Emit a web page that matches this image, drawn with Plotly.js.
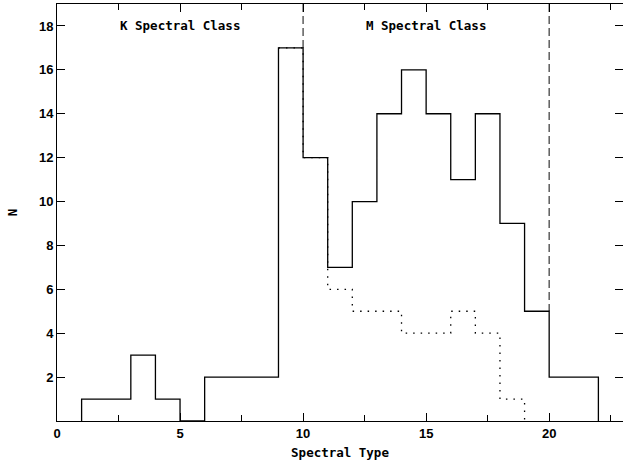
<!DOCTYPE html>
<html>
<head>
<meta charset="utf-8">
<script src="https://cdn.plot.ly/plotly-3.0.1.min.js"></script>
<style>html,body{margin:0;padding:0;background:#fff;}#chart{width:623px;height:463px;}</style>
</head>
<body>
<div id="chart"></div>
<script>
// All spectral types: bin lower edges and counts (bin width 1)
const allBinStarts = [1,2,3,4,5,6,7,8,9,10,11,12,13,14,15,16,17,18,19,20,21];
const allCounts    = [1,1,3,1,0,2,2,2,17,12,7,10,14,16,14,11,14,9,5,2,2];
// Subsample (dotted)
const subBinStarts = [9,10,11,12,13,14,15,16,17,18];
const subCounts    = [17,12,6,5,5,4,4,5,4,1];
// Class boundaries (dashed) and the histogram height where each dashed line stops
const boundaryX   = [10, 20];
const boundaryLow = [17, 5];
const yTop = 19;
// Tick labels / annotations
const xTicks = [0,5,10,15,20];
const yTicks = [2,4,6,8,10,12,14,16,18];
const classLabels = ["K Spectral Class", "M Spectral Class"];
const classLabelX = [5, 15];
const classLabelY = [18, 18];

function stepPath(starts, counts, fromZero){
  const xs=[], ys=[];
  if(fromZero){ xs.push(starts[0]); ys.push(0); }
  for(let i=0;i<starts.length;i++){
    xs.push(starts[i], starts[i]+1); ys.push(counts[i], counts[i]);
  }
  xs.push(starts[starts.length-1]+1); ys.push(0);
  return {xs, ys};
}
const a = stepPath(allBinStarts, allCounts, true);
const s = stepPath(subBinStarts, subCounts, false);

const bx=[], by=[];
boundaryX.forEach((x,i)=>{ bx.push(x,x,null); by.push(yTop, boundaryLow[i], null); });

const traces = [
  {x:bx, y:by, mode:'lines', line:{color:'#444', width:1.3, dash:'8px,4px'}, hoverinfo:'skip'},
  {x:s.xs, y:s.ys, mode:'lines', line:{color:'#000', width:1.3, dash:'1.5px,6px'}, hoverinfo:'skip'},
  {x:a.xs, y:a.ys, mode:'lines', line:{color:'#000', width:1.3}, hoverinfo:'skip'}
];

const tickFont = {family:'Liberation Sans, Arial, sans-serif', size:13, color:'#000', weight:'bold'};
const layout = {
  width:623, height:463,
  margin:{l:57, r:0, t:4, b:42},
  paper_bgcolor:'#fff', plot_bgcolor:'#fff',
  showlegend:false, hovermode:false,
  xaxis:{
    range:[0,23], showgrid:false, zeroline:false,
    showline:true, linecolor:'#000', linewidth:1, mirror:'ticks',
    ticks:'inside', ticklen:8, tickcolor:'#000', tickwidth:1,
    tickvals:xTicks, ticktext:xTicks.map(String), tickfont:tickFont,
    minor:{tickvals:[2.5,7.5,12.5,17.5,22.5], ticks:'inside', ticklen:6, tickcolor:'#000', showgrid:false},
    title:{text:'Spectral Type', font:{family:'DejaVu Sans Mono, monospace', size:12.5, color:'#000', weight:'bold'}, standoff:8}
  },
  yaxis:{
    range:[0,19], showgrid:false, zeroline:false,
    showline:true, linecolor:'#000', linewidth:1, mirror:'ticks',
    ticks:'inside', ticklen:8, tickcolor:'#000', tickwidth:1,
    tickvals:yTicks, ticktext:yTicks.map(String), tickfont:tickFont,
    title:{text:'N', font:{family:'DejaVu Sans Mono, monospace', size:12.5, color:'#000', weight:'bold'}, standoff:18}
  },
  annotations: classLabels.map((t,i)=>({
    x:classLabelX[i], y:classLabelY[i], xref:'x', yref:'y', text:t, showarrow:false,
    font:{family:'DejaVu Sans Mono, monospace', size:12.5, color:'#000', weight:'bold'}
  }))
};
Plotly.newPlot('chart', traces, layout, {staticPlot:true, displayModeBar:false});
</script>
</body>
</html>
